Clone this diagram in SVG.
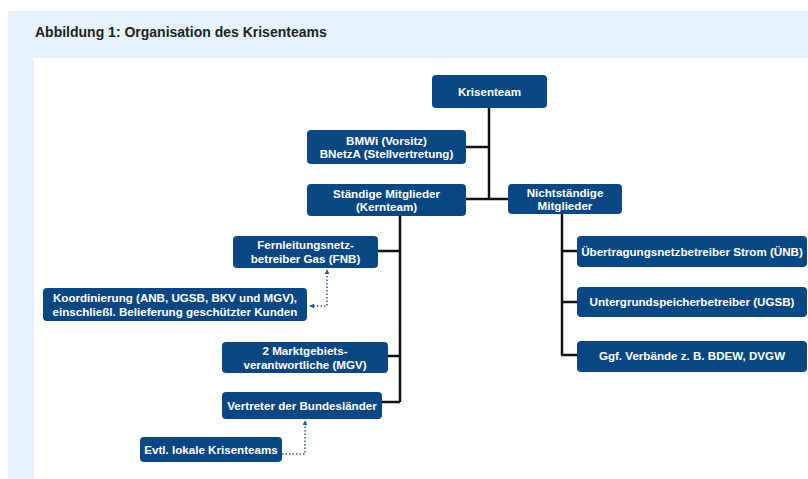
<svg xmlns="http://www.w3.org/2000/svg" width="808" height="479" viewBox="0 0 808 479">
<defs>
<style>
.box{fill:#0B4883;}
.t{font-family:"Liberation Sans",Arial,sans-serif;font-weight:bold;font-size:11.6px;fill:#ffffff;text-anchor:middle;}
.c{stroke:#111;stroke-width:2.5;fill:none;}
.d{stroke:#2B5C8E;stroke-width:1.5;stroke-dasharray:1.5 2;fill:none;}
.title{font-family:"Liberation Sans",Arial,sans-serif;font-weight:bold;font-size:14px;fill:#222;}
</style>
<marker id="ah" viewBox="0 0 6 6" refX="5" refY="3" markerWidth="5" markerHeight="5" orient="auto-start-reverse" markerUnits="userSpaceOnUse">
<path d="M0,0 L6,3 L0,6 z" fill="#2B5C8E"/>
</marker>
</defs>
<rect x="0" y="0" width="808" height="479" fill="#ffffff"/>
<rect x="8" y="11" width="800" height="468" fill="#E6F3FC"/>
<rect x="34" y="58" width="774" height="421" fill="#ffffff"/>
<text class="title" x="35" y="36.5">Abbildung 1: Organisation des Krisenteams</text>

<g id="connectors">
<path class="c" d="M489,108 V199"/>
<path class="c" d="M466,147 H489"/>
<path class="c" d="M466,199 H508"/>
<path class="c" d="M400,216 V402"/>
<path class="c" d="M378,251 H400"/>
<path class="c" d="M388,356 H400"/>
<path class="c" d="M382,402 H400"/>
<path class="c" d="M562,214 V355"/>
<path class="c" d="M562,251 H577"/>
<path class="c" d="M562,302 H577"/>
<path class="c" d="M561,355 H577"/>
<path class="d" d="M310,306 H327 V270" marker-start="url(#ah)" marker-end="url(#ah)"/>
<path class="d" d="M282,454 H305 V421" marker-end="url(#ah)"/>
</g>

<g id="krisenteam"><rect class="box" x="432" y="75" width="115" height="33" rx="4"/><text class="t" x="489.5" y="95.5">Krisenteam</text></g>
<g id="bmwi"><rect class="box" x="307" y="130" width="159" height="34" rx="4"/><text class="t" x="386.5" y="144.5">BMWi (Vorsitz)</text><text class="t" x="386.5" y="158">BNetzA (Stellvertretung)</text></g>
<g id="staendige"><rect class="box" x="307" y="184" width="159" height="32" rx="4"/><text class="t" x="386.5" y="197.5">Ständige Mitglieder</text><text class="t" x="386.5" y="211">(Kernteam)</text></g>
<g id="nichtstaendige"><rect class="box" x="508" y="184" width="114" height="30" rx="4"/><text class="t" x="565" y="197">Nichtständige</text><text class="t" x="565" y="210">Mitglieder</text></g>
<g id="fnb"><rect class="box" x="233" y="236" width="145" height="32" rx="4"/><text class="t" x="305.5" y="249">Fernleitungsnetz-</text><text class="t" x="305.5" y="262.5">betreiber Gas (FNB)</text></g>
<g id="koordinierung"><rect class="box" x="43" y="288" width="264" height="33" rx="4"/><text class="t" x="175" y="302">Koordinierung (ANB, UGSB, BKV und MGV),</text><text class="t" x="175" y="316">einschließl. Belieferung geschützter Kunden</text></g>
<g id="mgv"><rect class="box" x="222" y="342" width="166" height="31" rx="4"/><text class="t" x="305" y="355">2 Marktgebiets-</text><text class="t" x="305" y="368.5">verantwortliche (MGV)</text></g>
<g id="bundeslaender"><rect class="box" x="222" y="392" width="160" height="27" rx="4"/><text class="t" x="302" y="409.5">Vertreter der Bundesländer</text></g>
<g id="lokale"><rect class="box" x="140" y="437" width="142" height="25" rx="4"/><text class="t" x="211" y="453.5">Evtl. lokale Krisenteams</text></g>
<g id="uenb"><rect class="box" x="577" y="236" width="230" height="31" rx="4"/><text class="t" x="692" y="255.5">Übertragungsnetzbetreiber Strom (ÜNB)</text></g>
<g id="ugsb"><rect class="box" x="577" y="287" width="230" height="30" rx="4"/><text class="t" x="692" y="306">Untergrundspeicherbetreiber (UGSB)</text></g>
<g id="verbaende"><rect class="box" x="577" y="341" width="230" height="31" rx="4"/><text class="t" x="692" y="360">Ggf. Verbände z. B. BDEW, DVGW</text></g>
</svg>
